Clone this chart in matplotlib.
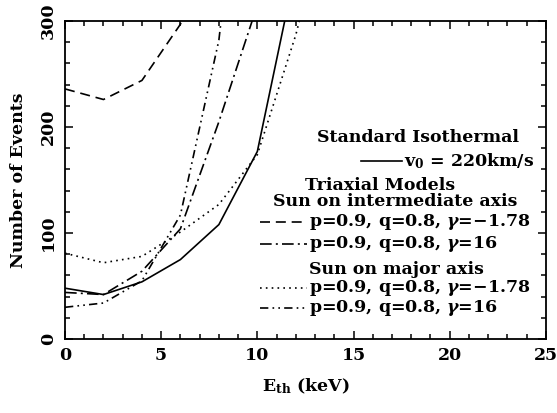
import matplotlib
matplotlib.use("Agg")
import matplotlib.pyplot as plt
from matplotlib.ticker import MultipleLocator

plt.rcParams['font.family'] = ['DejaVu Serif']
plt.rcParams['font.weight'] = 'bold'
plt.rcParams['axes.labelweight'] = 'bold'
plt.rcParams['mathtext.fontset'] = 'custom'
plt.rcParams['mathtext.rm'] = 'DejaVu Serif:bold'
plt.rcParams['mathtext.it'] = 'DejaVu Serif:italic:bold'
plt.rcParams['mathtext.bf'] = 'DejaVu Serif:bold'

# threshold energies (keV)
E_th = [0, 2, 4, 6, 8, 10, 12, 14]

# event counts
iso = [48, 42, 54, 75, 108, 177, 350, 600]              # standard isothermal
int_m178 = [236, 226, 244, 297, 400, 520, 650, 800]     # intermediate axis, gamma=-1.78
int_16 = [44, 42, 64, 104, 205, 315, 450, 600]          # intermediate axis, gamma=16
maj_m178 = [81, 72, 78, 101, 127, 174, 287, 430]        # major axis, gamma=-1.78
maj_16 = [30, 34, 55, 117, 282, 600, 900, 1200]         # major axis, gamma=16

ls_dash = (0, (6, 3.5))
ls_dashdot = (0, (7, 2.5, 1.2, 2.5))
ls_dot = (0, (1, 2.5))
ls_dashdotdot = (0, (5, 2.5, 1, 2.5, 1, 2.5))

fig = plt.figure(figsize=(5.57, 4.13), dpi=100)
ax = fig.add_axes([0.1167, 0.179, 0.8633, 0.770])

lw = 1.2
ax.plot(E_th, iso, color='k', lw=lw, linestyle='-')
ax.plot(E_th, int_m178, color='k', lw=lw, linestyle=ls_dash)
ax.plot(E_th, int_16, color='k', lw=lw, linestyle=ls_dashdot)
ax.plot(E_th, maj_m178, color='k', lw=lw, linestyle=ls_dot)
ax.plot(E_th, maj_16, color='k', lw=lw, linestyle=ls_dashdotdot)

ax.set_xlim(0, 25)
ax.set_ylim(0, 300)
ax.xaxis.set_major_locator(MultipleLocator(5))
ax.xaxis.set_minor_locator(MultipleLocator(1))
ax.yaxis.set_major_locator(MultipleLocator(100))
ax.yaxis.set_minor_locator(MultipleLocator(20))
ax.tick_params(which='both', direction='in', top=True, right=True, width=1.1)
ax.tick_params(which='major', length=6, labelsize=12.5, pad=6)
ax.tick_params(which='minor', length=3.5)
for lab in ax.get_yticklabels():
    lab.set_rotation(90)
    lab.set_va('center')
for sp in ax.spines.values():
    sp.set_linewidth(1.3)

ax.set_xlabel(r'E$_{\mathbf{th}}$ (keV)', fontsize=12.5, labelpad=9)
ax.set_ylabel('Number of Events', fontsize=12.5, labelpad=9)

# key, drawn inside the axes
tr = ax.transAxes
fs = 12.5
ax.text(0.735, 0.635, 'Standard Isothermal', transform=tr, ha='center', va='center', fontsize=fs)
ax.plot([0.615, 0.70], [0.56, 0.56], transform=tr, color='k', lw=lw, ls='-')
ax.text(0.705, 0.56, r'v$_0$ = 220km/s', transform=tr, ha='left', va='center', fontsize=fs)

ax.text(0.655, 0.484, 'Triaxial Models', transform=tr, ha='center', va='center', fontsize=fs)
ax.text(0.687, 0.432, 'Sun on intermediate axis', transform=tr, ha='center', va='center', fontsize=fs)
rows = [
    (0.367, ls_dash, r'p=0.9, q=0.8, $\gamma$=$-$1.78'),
    (0.300, ls_dashdot, r'p=0.9, q=0.8, $\gamma$=16'),
    (0.160, ls_dot, r'p=0.9, q=0.8, $\gamma$=$-$1.78'),
    (0.097, ls_dashdotdot, r'p=0.9, q=0.8, $\gamma$=16'),
]
ax.text(0.69, 0.220, 'Sun on major axis', transform=tr, ha='center', va='center', fontsize=fs)
for y, ls, label in rows:
    ax.plot([0.405, 0.503], [y, y], transform=tr, color='k', lw=lw, linestyle=ls)
    ax.text(0.507, y, label, transform=tr, ha='left', va='center', fontsize=fs)

fig.savefig('out.png', dpi=100)
